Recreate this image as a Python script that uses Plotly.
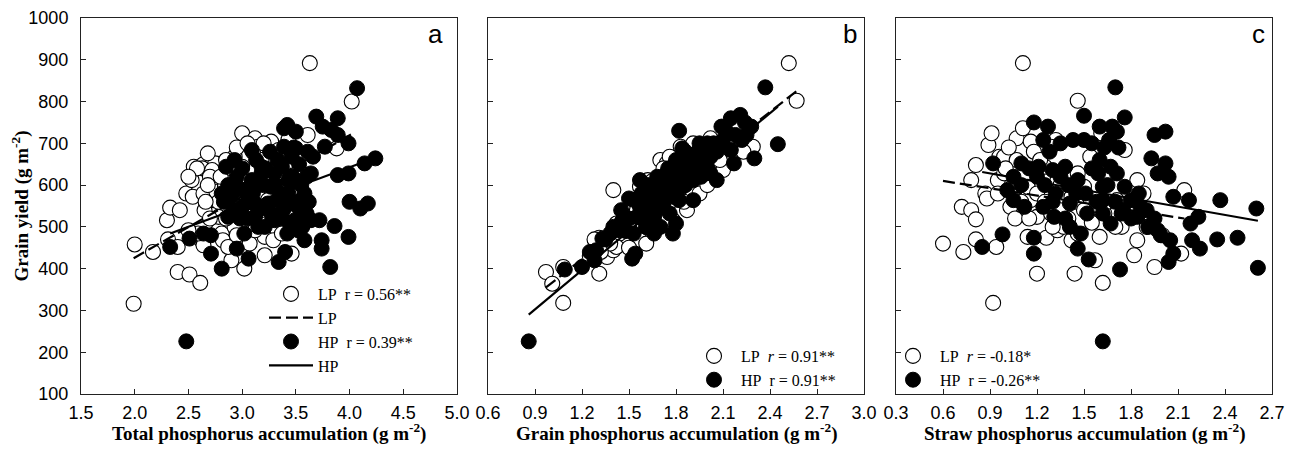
import plotly.graph_objects as go

# ---------------- data ----------------
# Panel a: total phosphorus accumulation vs grain yield
a_lp_x = [1.99, 2.0, 2.17, 2.30, 2.33, 2.42, 2.40, 2.51, 2.61, 2.31, 2.40, 2.48, 2.54, 2.53, 2.55, 2.64,
          2.63, 2.75, 2.72, 2.71, 2.73, 2.64, 2.65, 2.62, 2.64, 2.78, 2.81, 2.82, 2.90, 3.0, 3.02, 3.07,
          3.12, 3.15, 3.21, 3.21, 3.29, 3.27, 3.46, 3.63, 3.61, 4.02, 3.88, 2.93, 2.93, 3.0, 3.12, 3.18,
          3.34, 3.43, 3.40, 2.93, 3.06, 3.30, 2.87, 3.12, 3.0, 2.76, 2.78, 2.84, 2.59, 2.50, 2.68, 2.96,
          3.24, 3.49, 3.55, 3.37,
          2.70, 2.68, 2.80, 2.85, 2.90, 2.95, 3.05, 3.10, 3.20, 3.35, 3.25, 2.78, 2.66, 2.70, 2.85, 2.95,
          3.18, 3.40, 3.48, 2.58, 2.50]
a_lp_y = [316, 458, 440, 516, 546, 540, 392, 386, 366, 470, 452, 580, 572, 612, 644, 650,
          640, 652, 636, 596, 564, 580, 540, 468, 456, 492, 484, 468, 420, 724, 400, 460,
          712, 692, 432, 476, 468, 704, 436, 892, 720, 800, 688, 668, 564, 612, 596, 660,
          684, 708, 644, 500, 524, 532, 452, 492, 644, 584, 524, 596, 484, 492, 676, 548,
          564, 580, 628, 484,
          620, 600, 620, 660, 640, 690, 700, 680, 700, 660, 600, 560, 560, 520, 520, 480,
          540, 600, 540, 640, 620]
a_hp_x = [2.48, 2.33, 2.51, 2.64, 2.71, 2.71, 2.81, 2.95, 3.06, 3.34, 3.40, 3.42, 3.82, 3.74, 3.74, 3.99,
          3.86, 3.72, 3.58, 4.00, 4.10, 4.17, 4.07, 3.99, 4.24, 4.14, 3.99, 3.89, 3.77, 3.69, 3.75, 3.89,
          3.83, 3.89, 3.42, 3.50, 3.39, 3.39, 3.50, 3.61, 3.66, 3.64, 3.52, 3.58, 3.52, 3.60, 3.49, 3.52,
          3.64, 3.30, 3.21, 3.12, 3.02, 2.93, 2.90, 2.81, 2.85, 2.93, 3.0, 3.09, 3.09, 3.18, 3.27, 3.34,
          3.40, 3.43, 3.24, 3.12, 3.02, 3.0, 3.18, 3.30, 3.43, 2.87, 3.37, 3.55, 3.46,
          2.83, 2.87, 2.95, 2.98, 3.05, 3.08, 3.10, 3.15, 3.20, 3.22, 3.25, 3.28, 3.31, 3.33, 3.36, 3.38,
          3.45, 3.47, 3.48, 3.53, 3.55, 3.57, 3.60, 3.62, 3.05, 2.98, 3.15, 3.35, 3.44, 3.56, 2.92, 3.26,
          3.13]
a_hp_y = [226, 452, 472, 484, 480, 436, 400, 448, 424, 416, 440, 484, 404, 468, 448, 476,
          502, 516, 468, 560, 544, 556, 832, 700, 664, 652, 628, 624, 692, 764, 740, 760,
          732, 720, 744, 728, 736, 692, 688, 680, 668, 628, 608, 580, 548, 532, 516, 492,
          516, 516, 500, 524, 484, 532, 572, 580, 644, 660, 640, 684, 612, 628, 596, 564,
          548, 612, 556, 556, 588, 548, 644, 628, 580, 524, 644, 564, 668,
          560, 600, 620, 590, 560, 600, 580, 540, 600, 640, 540, 520, 600, 660, 580, 540,
          560, 620, 690, 650, 600, 540, 620, 560, 520, 520, 500, 520, 510, 500, 540, 680,
          660]

# Panel b: grain phosphorus accumulation vs grain yield
b_lp_x = [2.52, 2.57, 0.97, 1.01, 1.08, 1.08, 1.31, 1.40, 1.31, 1.36, 1.40, 1.42, 1.57, 1.61, 1.62, 1.68,
          1.70, 1.74, 1.71, 1.87, 1.97, 2.02, 2.10, 2.24, 2.29, 2.23, 1.83, 1.91, 1.78, 1.91, 1.49, 1.57,
          1.66, 1.74, 1.83, 1.93, 2.04, 1.53, 1.44, 1.61, 1.78, 1.87, 1.97, 2.10, 1.68, 1.57, 1.66, 1.76,
          1.42, 1.53,
          1.45, 1.50, 1.55, 1.60, 1.65, 1.72, 1.80, 1.85, 1.90, 1.95, 2.05, 2.15, 1.38, 1.32, 1.50, 1.75,
          2.00, 2.08, 1.25, 1.28]
b_lp_y = [892, 802, 392, 364, 318, 404, 388, 588, 474, 428, 444, 508, 468, 460, 612, 596,
          660, 652, 624, 540, 604, 712, 636, 696, 692, 680, 692, 700, 564, 580, 524, 564,
          532, 596, 628, 644, 660, 492, 484, 500, 516, 612, 668, 684, 564, 596, 580, 668,
          452, 564,
          510, 500, 540, 520, 610, 640, 600, 560, 620, 580, 690, 700, 460, 440, 450, 520,
          600, 660, 430, 470]
b_hp_x = [0.86, 2.37, 2.45, 2.30, 1.82, 1.57, 1.50, 1.09, 1.20, 1.28, 1.29, 1.33, 1.52, 1.54, 1.66, 1.80,
          2.06, 2.15, 2.21, 2.15, 2.09, 2.28, 2.22, 2.17, 2.00, 1.93, 1.84, 1.89, 1.84, 1.78, 1.74, 1.68,
          1.61, 1.55, 1.46, 1.44, 1.38, 1.66, 1.72, 1.78, 1.84, 1.91, 1.97, 2.02, 2.08, 1.78, 1.74, 1.82,
          1.61, 1.57, 1.70, 1.91, 1.97, 2.10, 1.82, 1.76, 1.91, 2.02, 1.53, 1.70, 1.78,
          1.45, 1.50, 1.55, 1.58, 1.62, 1.65, 1.68, 1.72, 1.75, 1.78, 1.80, 1.83, 1.86, 1.88, 1.90, 1.94,
          1.96, 2.00, 2.04, 2.06, 2.12, 2.18, 2.25, 2.24, 1.48, 1.40, 1.35, 1.25, 1.64, 1.70, 1.76, 1.86,
          1.95, 2.00]
b_hp_y = [226, 834, 698, 664, 730, 612, 568, 398, 404, 420, 444, 472, 424, 436, 484, 508,
          612, 684, 768, 760, 740, 740, 708, 652, 700, 676, 688, 660, 628, 612, 580, 556,
          532, 524, 516, 492, 484, 524, 548, 572, 596, 612, 644, 668, 692, 644, 628, 660,
          500, 548, 596, 628, 692, 708, 564, 532, 564, 628, 484, 500, 484,
          540, 520, 560, 580, 600, 580, 620, 600, 640, 620, 660, 640, 680, 620, 650, 680,
          620, 660, 700, 680, 730, 720, 720, 750, 490, 500, 470, 440, 560, 560, 600, 600,
          700, 640]

# Panel c: straw phosphorus accumulation vs grain yield
c_lp_x = [1.11, 1.46, 0.92, 0.60, 0.73, 0.81, 0.94, 0.72, 0.78, 0.81, 0.78, 0.81, 0.87, 0.88, 0.89, 0.91,
          0.96, 0.99, 0.95, 1.07, 1.11, 1.16, 1.03, 1.06, 1.14, 1.20, 1.26, 1.33, 1.42, 1.44, 1.57, 1.62,
          1.60, 1.76, 1.84, 1.88, 1.82, 1.95, 2.14, 2.12, 1.61, 1.32, 1.25, 1.33, 1.42, 1.16, 1.20, 1.29,
          1.37, 1.46, 1.52, 1.63, 1.71, 1.74, 1.84, 1.14, 1.07, 0.99, 1.46, 1.54, 1.29, 1.50,
          1.00, 1.05, 1.10, 1.15, 1.20, 1.25, 1.30, 1.35, 1.40, 1.45, 1.50, 1.55, 1.65, 1.70, 1.80, 1.90,
          2.00, 1.18, 1.22, 0.95, 1.02, 1.35]
c_lp_y = [892, 802, 318, 460, 440, 470, 452, 548, 540, 518, 612, 648, 580, 568, 696, 724,
          668, 668, 612, 712, 736, 704, 548, 520, 476, 388, 474, 492, 468, 388, 420, 366,
          476, 684, 612, 580, 432, 404, 588, 436, 724, 708, 644, 612, 572, 564, 524, 532,
          500, 484, 556, 532, 564, 500, 468, 596, 660, 628, 628, 668, 692, 596,
          640, 600, 560, 520, 580, 560, 500, 540, 520, 560, 540, 510, 560, 500, 540, 500,
          480, 680, 660, 580, 690, 600]
c_hp_x = [1.62, 1.70, 1.50, 1.76, 1.18, 1.27, 1.60, 1.68, 1.71, 1.95, 2.02, 1.24, 1.35, 1.43, 1.50, 1.66,
          1.93, 2.02, 1.97, 2.04, 0.92, 1.10, 1.21, 1.30, 1.38, 1.46, 1.59, 1.71, 1.01, 1.05, 1.12, 1.31,
          1.41, 1.48, 1.52, 1.62, 1.67, 1.74, 1.80, 1.86, 1.91, 1.97, 2.07, 2.17, 2.23, 2.18, 2.37, 2.60,
          2.61, 2.48, 2.35, 2.19, 2.24, 2.05, 2.07, 2.04, 1.73, 1.53, 1.46, 1.18, 1.18, 0.98, 0.85, 1.41,
          1.62, 1.76, 1.51, 1.32, 1.24, 1.60, 1.67, 1.84, 1.62,
          1.05, 1.10, 1.15, 1.20, 1.25, 1.30, 1.35, 1.40, 1.45, 1.55, 1.58, 1.65, 1.70, 1.75, 1.80, 1.85,
          1.90, 1.95, 1.99, 1.38, 1.28, 1.55, 1.63, 1.72]
c_hp_y = [226, 834, 766, 762, 750, 740, 740, 740, 728, 720, 728, 708, 700, 708, 708, 708,
          664, 652, 628, 620, 652, 652, 644, 636, 644, 612, 628, 628, 588, 564, 548, 524,
          500, 484, 532, 564, 508, 532, 564, 548, 500, 492, 572, 564, 524, 508, 564, 544,
          402, 474, 470, 468, 448, 468, 436, 416, 398, 422, 448, 436, 474, 482, 452, 556,
          596, 596, 580, 580, 548, 660, 644, 524, 532,
          620, 600, 640, 620, 600, 560, 620, 600, 580, 640, 560, 600, 560, 540, 520, 580,
          540, 520, 480, 520, 680, 700, 690, 690]

# Linear fits (slope, intercept)
a_lp_fit = (146.3, 133.9)
a_hp_fit = (95.0, 262.6)
b_lp_fit = (293.8, 70.1)
b_hp_fit = (313.0, 21.0)
c_lp_fit = (-58.4, 645.0)
c_hp_fit = (-66.3, 687.7)

legend_labels = {
    "a": ["LP\u00a0\u00a0r = 0.56**", "LP", "HP\u00a0\u00a0r = 0.39**", "HP"],
    "b": ["LP\u00a0\u00a0<i>r</i> = 0.91**", "HP\u00a0\u00a0r = 0.91**"],
    "c": ["LP\u00a0\u00a0<i>r</i> = -0.18*", "HP\u00a0\u00a0r = -0.26**"],
}
x_titles = ["Total phosphorus accumulation (g m<sup>-2</sup>)",
            "Grain phosphorus accumulation (g m<sup>-2</sup>)",
            "Straw phosphorus accumulation (g m<sup>-2</sup>)"]
y_title = "Grain yield (g m<sup>-2</sup>)"
x_ranges = [(1.5, 5.0), (0.6, 3.0), (0.3, 2.7)]
x_dticks = [0.5, 0.3, 0.3]
panel_letters = ["a", "b", "c"]

# ---------------- figure ----------------
SERIF = "Liberation Serif"
SANS = "Liberation Sans"
MS = 15

fig = go.Figure()


def fit_line(xs, fit):
    x0, x1 = min(xs), max(xs)
    return [x0, x1], [fit[0] * x0 + fit[1], fit[0] * x1 + fit[1]]


panels = [
    ("a", a_lp_x, a_lp_y, a_hp_x, a_hp_y, a_lp_fit, a_hp_fit),
    ("b", b_lp_x, b_lp_y, b_hp_x, b_hp_y, b_lp_fit, b_hp_fit),
    ("c", c_lp_x, c_lp_y, c_hp_x, c_hp_y, c_lp_fit, c_hp_fit),
]

for i, (p, lx, ly, hx, hy, lfit, hfit) in enumerate(panels):
    xa = "x" if i == 0 else f"x{i+1}"
    ya = "y" if i == 0 else f"y{i+1}"
    leg = "legend" if i == 0 else f"legend{i+1}"
    labels = legend_labels[p]
    full = p == "a"
    fig.add_trace(go.Scatter(
        x=lx, y=ly, mode="markers", xaxis=xa, yaxis=ya, legend=leg,
        name=labels[0], legendrank=1,
        marker=dict(symbol="circle", size=MS, color="white",
                    line=dict(color="black", width=1.1))))
    fig.add_trace(go.Scatter(
        x=hx, y=hy, mode="markers", xaxis=xa, yaxis=ya, legend=leg,
        name=labels[2] if full else labels[1], legendrank=3,
        marker=dict(symbol="circle", size=MS, color="black",
                    line=dict(color="black", width=1))))
    lxx, lyy = fit_line(lx, lfit)
    fig.add_trace(go.Scatter(
        x=lxx, y=lyy, mode="lines", xaxis=xa, yaxis=ya, legend=leg,
        name=labels[1] if full else "LP fit", showlegend=full, legendrank=2,
        line=dict(color="black", width=2.2, dash="12px,5px")))
    hxx, hyy = fit_line(hx, hfit)
    fig.add_trace(go.Scatter(
        x=hxx, y=hyy, mode="lines", xaxis=xa, yaxis=ya, legend=leg,
        name=labels[3] if full else "HP fit", showlegend=full, legendrank=4,
        line=dict(color="black", width=2.2)))

# The page body has an 8px margin, so the figure starts 8px in from the
# window's top-left corner; reference pixel positions are shifted by it.
OFF = 8
W, H = 1298 - OFF, 449 - OFF
plot_left, plot_right, plot_top, plot_bottom = 81, 1272, 18, 394   # reference pixels
ML = plot_left - OFF
MR = W - (plot_right - OFF)
MT = plot_top - OFF
MB = H - (plot_bottom - OFF)
pw = plot_right - plot_left
ph = plot_bottom - plot_top
px_domains = [(81, 457), (488, 864), (896, 1272)]
domains = [((a - plot_left) / pw, (b - plot_left) / pw) for a, b in px_domains]

axis_common = dict(showline=True, linecolor="#222", linewidth=1, mirror=True,
                   ticks="inside", ticklen=5, tickcolor="#222", tickwidth=1,
                   showgrid=False, zeroline=False, automargin=False)

layout = dict(width=W, height=H, margin=dict(l=ML, r=MR, t=MT, b=MB, autoexpand=False),
              paper_bgcolor="white", plot_bgcolor="white", showlegend=True,
              font=dict(family=SANS, color="black"))

for i in range(3):
    xk = "xaxis" if i == 0 else f"xaxis{i+1}"
    yk = "yaxis" if i == 0 else f"yaxis{i+1}"
    xa = "x" if i == 0 else f"x{i+1}"
    ya = "y" if i == 0 else f"y{i+1}"
    layout[xk] = dict(axis_common, domain=list(domains[i]), anchor=ya,
                      range=list(x_ranges[i]), tick0=x_ranges[i][0], dtick=x_dticks[i],
                      tickformat=".1f", tickfont=dict(family=SANS, size=18),
                      ticklabelstandoff=2)
    layout[yk] = dict(axis_common, domain=[0, 1], anchor=xa, range=[100, 1000],
                      dtick=100, showticklabels=(i == 0), ticklabelstandoff=8,
                      tickfont=dict(family=SANS, size=18))
    if i == 0:
        layout[yk]["title"] = dict(text=y_title, standoff=2,
                                   font=dict(family=SERIF, size=19, weight="bold"))

leg_common = dict(bgcolor="rgba(0,0,0,0)", borderwidth=0, font=dict(family=SERIF, size=16),
                  itemwidth=44, traceorder="normal", tracegroupgap=0,
                  xanchor="left", yanchor="top", itemclick=False)


def px2paper_x(px):
    return (px - plot_left) / pw


def px2paper_y(py):
    return (plot_bottom - py) / ph


layout["legend"] = dict(leg_common, x=px2paper_x(264), y=px2paper_y(277))
layout["legend2"] = dict(leg_common, x=px2paper_x(687), y=px2paper_y(339))
layout["legend3"] = dict(leg_common, x=px2paper_x(886), y=px2paper_y(339))

annotations = []
letter_x = [0.968, 0.988, 0.987]
for i, letter in enumerate(panel_letters):
    xa = "x" if i == 0 else f"x{i+1}"
    ya = "y" if i == 0 else f"y{i+1}"
    annotations.append(dict(text=letter, xref=f"{xa} domain", yref=f"{ya} domain",
                            x=letter_x[i], y=1.0, yshift=1, xanchor="right", yanchor="top",
                            showarrow=False, font=dict(family=SANS, size=26)))
    annotations.append(dict(text=x_titles[i], xref=f"{xa} domain", yref=f"{ya} domain",
                            x=0.5, y=0, yshift=-38, xanchor="center", yanchor="middle",
                            showarrow=False,
                            font=dict(family=SERIF, size=19, weight="bold")))
layout["annotations"] = annotations

fig.update_layout(layout)
fig.write_html("out.html")
